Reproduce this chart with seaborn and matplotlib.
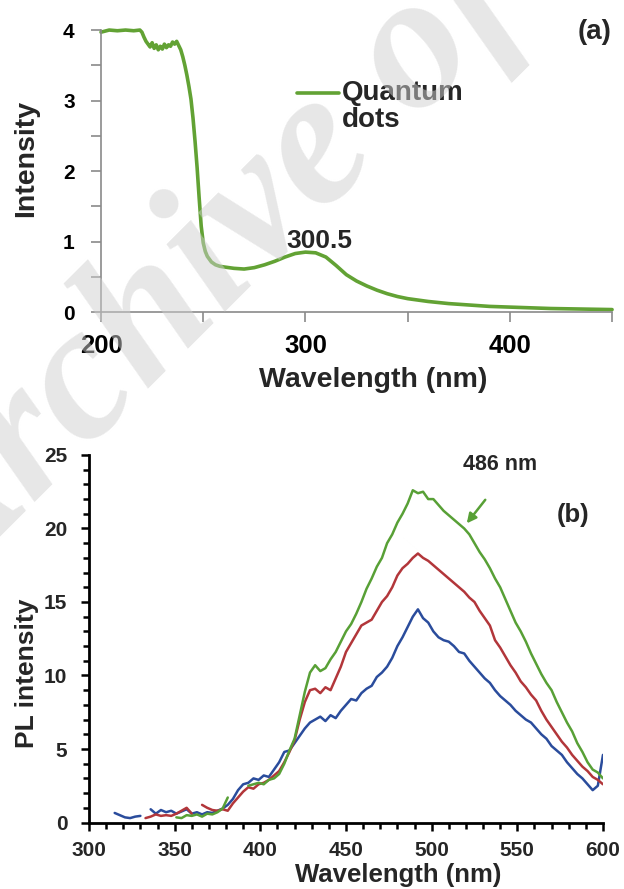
import numpy as np
import pandas as pd
import matplotlib
matplotlib.use("Agg")
import matplotlib.pyplot as plt
import seaborn as sns
from matplotlib.ticker import MultipleLocator

sns.set_theme(style="white")
plt.rcParams["font.family"] = ["Liberation Sans", "DejaVu Sans"]
plt.rcParams["font.weight"] = "bold"
plt.rcParams["axes.labelweight"] = "bold"

# ---------------- Panel (a): absorption spectrum ----------------
wl_a = [200, 204, 208, 212, 216, 219,
        220, 221, 222, 223, 224, 225, 226, 227, 228, 229,
        230, 231, 232, 233, 234, 235, 236, 237, 238, 239,
        240, 241, 242, 243, 244, 245, 246, 247, 248, 249,
        250, 251, 252, 254, 256, 258, 260,
        265, 270, 275, 280, 285, 290, 295, 300,
        305, 310, 315, 320, 325, 330, 335, 340, 345, 350,
        360, 370, 380, 390, 400, 420, 450]
int_a = [3.97, 4.0, 3.99, 4.0, 3.99, 4.0,
         3.97, 3.9, 3.84, 3.8, 3.76, 3.82, 3.74, 3.79, 3.72, 3.77,
         3.73, 3.8, 3.75, 3.79, 3.77, 3.83, 3.8, 3.84, 3.78, 3.72,
         3.62, 3.5, 3.36, 3.2, 3.02, 2.75, 2.42, 2.05, 1.62, 1.22,
         0.98, 0.86, 0.79, 0.71, 0.67, 0.65, 0.64,
         0.62, 0.61, 0.63, 0.67, 0.72, 0.78, 0.83, 0.85,
         0.84, 0.78, 0.66, 0.53, 0.44, 0.37, 0.31, 0.26, 0.22, 0.19,
         0.15, 0.12, 0.10, 0.08, 0.07, 0.05, 0.035]
label_a = "Quantum\ndots"
peak_a = "300.5"

# ---------------- Panel (b): PL spectra ----------------
nan = np.nan
wl_b = [315, 318, 321, 324, 327, 330, 333, 336, 339, 342,
        345, 348, 351, 354, 357, 360, 363, 366, 369, 372,
        375, 378, 381, 384, 387, 390, 393, 396, 399, 402,
        405, 408, 411, 414, 417, 420, 423, 426, 429, 432,
        435, 438, 441, 444, 447, 450, 453, 456, 459, 462,
        465, 468, 471, 474, 477, 480, 483, 486, 489, 492,
        495, 498, 501, 504, 507, 510, 513, 516, 519, 522,
        525, 528, 531, 534, 537, 540, 543, 546, 549, 552,
        555, 558, 561, 564, 567, 570, 573, 576, 579, 582,
        585, 588, 591, 594, 597, 600]
pl_blue = [0.65, 0.5, 0.35, 0.3, 0.4, 0.45, nan, 0.9, 0.6, 0.85,
           0.7, 0.8, 0.6, 0.75, 0.9, 0.6, 0.7, 0.55, 0.7, 0.65,
           0.8, 0.95, 1.2, 1.6, 2.2, 2.6, 2.7, 3.0, 2.9, 3.2,
           3.1, 3.6, 4.1, 4.8, 4.9, 5.4, 5.9, 6.4, 6.8, 7.0,
           7.2, 6.9, 7.3, 7.1, 7.6, 8.0, 8.4, 8.3, 8.8, 9.1,
           9.3, 9.9, 10.2, 10.6, 11.2, 12.0, 12.6, 13.3, 14.0, 14.5,
           13.9, 13.6, 13.0, 12.6, 12.4, 12.3, 12.0, 11.6, 11.5, 11.0,
           10.6, 10.2, 9.8, 9.5, 9.0, 8.6, 8.3, 8.0, 7.6, 7.3,
           7.0, 6.8, 6.4, 6.0, 5.7, 5.2, 4.9, 4.6, 4.1, 3.7,
           3.3, 3.0, 2.6, 2.2, 2.5, 4.6]
pl_red = [nan, nan, nan, nan, nan, nan, 0.3, 0.4, 0.55, 0.45,
          0.5, 0.45, 0.6, 0.8, 1.0, 0.6, nan, 1.2, 1.0, 0.85,
          0.8, 0.9, 0.8, 1.3, 1.7, 2.1, 2.4, 2.3, 2.6, 2.7,
          2.9, 3.2, 3.5, 4.1, 4.8, 5.6, 7.0, 8.2, 9.0, 9.1,
          8.8, 9.2, 9.0, 9.8, 10.6, 11.6, 12.2, 12.8, 13.4, 13.6,
          13.8, 14.4, 15.0, 15.4, 16.0, 16.8, 17.3, 17.6, 18.0, 18.3,
          18.0, 17.8, 17.5, 17.2, 16.9, 16.6, 16.3, 16.0, 15.7, 15.3,
          15.0, 14.4, 13.9, 13.4, 12.4, 11.9, 11.3, 10.7, 10.2, 9.6,
          9.2, 8.7, 8.3, 7.6, 7.0, 6.5, 6.0, 5.5, 5.1, 4.6,
          4.2, 3.8, 3.5, 3.1, 2.9, 2.6]
pl_green = [nan, nan, nan, nan, nan, nan, nan, nan, nan, nan,
            nan, nan, 0.35, 0.3, 0.5, 0.45, 0.55, 0.4, 0.6, 0.55,
            0.7, 0.95, 1.7, nan, nan, nan, 2.5, 2.6, 2.7, 2.6,
            2.9, 3.0, 3.3, 4.0, 4.9, 5.7, 7.3, 8.9, 10.2, 10.7,
            10.3, 10.5, 11.1, 11.6, 12.3, 13.0, 13.5, 14.2, 15.0, 15.9,
            16.6, 17.4, 18.0, 19.0, 19.6, 20.4, 21.0, 21.7, 22.6, 22.4,
            22.5, 22.0, 22.0, 21.6, 21.2, 20.9, 20.6, 20.3, 20.0, 19.6,
            19.0, 18.4, 17.9, 17.3, 16.6, 16.0, 15.2, 14.4, 13.6, 13.0,
            12.3, 11.5, 10.8, 10.1, 9.5, 9.0, 8.2, 7.5, 6.8, 6.2,
            5.4, 4.8, 4.1, 3.6, 3.4, 3.0]
series_b = ["blue", "red", "green"]
colors_b = {"blue": "#2a4c9c", "red": "#b2363a", "green": "#58a036"}
peak_b = "486 nm"

GREEN_A = "#62a234"
GRAY = "#8a8a8a"

# build long table, splitting at gaps
rows = []
seg = 0
for name, vals in zip(series_b, [pl_blue, pl_red, pl_green]):
    seg += 1
    prev_nan = False
    for w, v in zip(wl_b, vals):
        if np.isnan(v):
            if not prev_nan:
                seg += 1
            prev_nan = True
            continue
        prev_nan = False
        rows.append((w, v, name, seg))
df_b = pd.DataFrame(rows, columns=["wl", "val", "series", "seg"])

fig = plt.figure(figsize=(6.24, 8.89), dpi=100)
ax1 = fig.add_axes([0.1619, 0.649, 0.819, 0.3172])
ax2 = fig.add_axes([0.1426, 0.0748, 0.8237, 0.4134])

# ---- panel (a)
sns.lineplot(x=wl_a, y=int_a, ax=ax1, color=GREEN_A, lw=2.6, label=label_a)
for ln in ax1.lines:
    ln.set_clip_on(False)
ax1.set_xlim(200, 450)
ax1.set_ylim(0, 4)
for s in ["top", "right"]:
    ax1.spines[s].set_visible(False)
for s in ["left", "bottom"]:
    ax1.spines[s].set_color(GRAY)
    ax1.spines[s].set_linewidth(1.2)
ax1.xaxis.set_major_locator(MultipleLocator(100))
ax1.xaxis.set_minor_locator(MultipleLocator(50))
ax1.yaxis.set_major_locator(MultipleLocator(1))
ax1.yaxis.set_minor_locator(MultipleLocator(0.5))
ax1.tick_params(axis="both", which="both", direction="out", length=7, width=1.2,
                color=GRAY, labelcolor="black", bottom=True, left=True)
ax1.tick_params(axis="x", which="major", labelsize=18.5, pad=9)
ax1.tick_params(axis="y", which="major", labelsize=15, pad=12)
ax1.set_xlabel("Wavelength (nm)", fontsize=20.5, fontweight="bold")
ax1.set_ylabel("Intensity", fontsize=20.5, fontweight="bold")
ax1.xaxis.set_label_coords(0.532, -0.195)
ax1.yaxis.set_label_coords(-0.121, 0.544)
ax1.text(306.6, 0.91, peak_a, ha="center", va="baseline", fontsize=19, fontweight="bold")
ax1.text(441.6, 3.97, "(a)", ha="center", va="center", fontsize=20, fontweight="bold")
leg = ax1.legend(loc="upper left", bbox_to_anchor=(0.3836, 0.823), frameon=False,
                 handlelength=1.5, handletextpad=0.1, borderpad=0, borderaxespad=0,
                 labelspacing=0.3, prop={"size": 20, "weight": "bold"})
for t in leg.get_texts():
    t.set_linespacing(1.05)
for h in leg.get_lines():
    h.set_linewidth(2.6)
    h.set_ydata(np.asarray(h.get_ydata(), dtype=float) + 10.0)

# ---- panel (b)
sns.lineplot(data=df_b, x="wl", y="val", hue="series", units="seg", estimator=None,
             palette=colors_b, lw=1.8, ax=ax2, legend=False, sort=False)
ax2.set_xlim(300, 600)
ax2.set_ylim(0, 25)
for s in ["top", "right"]:
    ax2.spines[s].set_visible(False)
for s in ["left", "bottom"]:
    ax2.spines[s].set_color("black")
    ax2.spines[s].set_linewidth(2.0)
ax2.xaxis.set_major_locator(MultipleLocator(50))
ax2.xaxis.set_minor_locator(MultipleLocator(10))
ax2.yaxis.set_major_locator(MultipleLocator(5))
ax2.yaxis.set_minor_locator(MultipleLocator(1))
ax2.tick_params(axis="both", which="major", direction="out", length=6, width=1.8,
                color="black", bottom=True, left=True, labelsize=15)
ax2.tick_params(axis="both", which="minor", direction="out", length=4, width=1.8,
                color="black", bottom=True, left=True)
ax2.tick_params(axis="x", which="major", pad=7.5)
ax2.tick_params(axis="y", which="major", pad=9.5)
ax2.set_xlabel("Wavelength (nm)", fontsize=18.5, fontweight="bold")
ax2.set_ylabel("PL intensity", fontsize=19, fontweight="bold")
ax2.xaxis.set_label_coords(0.601, -0.1104)
ax2.yaxis.set_label_coords(-0.097, 0.407)
ax2.text(540.2, 24.0, peak_b, ha="center", va="baseline", fontsize=15.5, fontweight="bold")
ax2.text(582.8, 20.9, "(b)", ha="center", va="center", fontsize=18.5, fontweight="bold")
ax2.annotate("", xy=(519.5, 20.2), xytext=(532.3, 22.1),
             arrowprops=dict(arrowstyle="-|>", color=colors_b["green"], lw=1.8,
                             mutation_scale=14))

# watermark
fig.text(-0.088, 0.323, "Archive of", rotation=45, rotation_mode="anchor",
         ha="left", va="baseline", fontsize=139, family="Liberation Serif",
         style="italic", fontweight="bold", color="#cfcfcf", alpha=0.5, zorder=10)

fig.savefig("out.png", dpi=100)
